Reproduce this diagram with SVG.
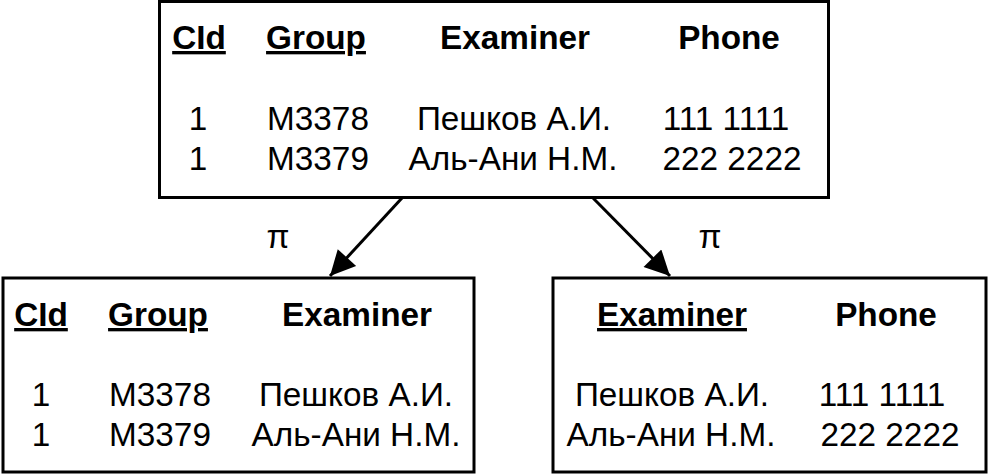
<svg xmlns="http://www.w3.org/2000/svg" width="988" height="476" viewBox="0 0 988 476">
<style>
  .box { fill: #ffffff; stroke: #000000; stroke-width: 3; }
  text { font-family: "Liberation Sans", Arial, sans-serif; font-size: 33.3px; fill: #000000; text-anchor: middle; }
  .h { font-weight: bold; }
  .u { text-decoration: underline; }
  .edge { stroke: #000000; stroke-width: 3; fill: none; }
</style>
<defs>
  <marker id="arrow" viewBox="0 0 10 10" refX="10" refY="5" markerUnits="userSpaceOnUse" markerWidth="27" markerHeight="25" orient="auto">
    <path d="M0,0 L10,5 L0,10 Z" fill="#000000"/>
  </marker>
</defs>
<rect width="988" height="476" fill="#ffffff"/>
<g id="connectors">
  <line class="edge" x1="402" y1="198" x2="330" y2="276" marker-end="url(#arrow)"/>
  <line class="edge" x1="593" y1="198" x2="670" y2="276" marker-end="url(#arrow)"/>
  <text x="278" y="248">π</text>
  <text x="710" y="248">π</text>
</g>
<g id="node-source">
  <rect class="box" x="159.5" y="1.5" width="669" height="196"/>
  <text class="h u" x="199" y="49">CId</text>
  <text class="h u" x="316" y="49">Group</text>
  <text class="h" x="515" y="49">Examiner</text>
  <text class="h" x="729" y="49">Phone</text>
  <text x="198" y="130">1</text>
  <text x="318" y="130">M3378</text>
  <text x="514" y="130">Пешков А.И.</text>
  <text x="726" y="130">111 1111</text>
  <text x="198" y="170">1</text>
  <text x="318" y="170">M3379</text>
  <text x="513" y="170">Аль-Ани Н.М.</text>
  <text x="732" y="170">222 2222</text>
</g>
<g id="node-left">
  <rect class="box" x="3" y="278" width="471" height="194"/>
  <text class="h u" x="41" y="326">CId</text>
  <text class="h u" x="158" y="326">Group</text>
  <text class="h" x="357" y="326">Examiner</text>
  <text x="41" y="406">1</text>
  <text x="160" y="406">M3378</text>
  <text x="356" y="406">Пешков А.И.</text>
  <text x="41" y="446">1</text>
  <text x="160" y="446">M3379</text>
  <text x="356" y="446">Аль-Ани Н.М.</text>
</g>
<g id="node-right">
  <rect class="box" x="553" y="278" width="433" height="194"/>
  <text class="h u" x="672" y="326">Examiner</text>
  <text class="h" x="886" y="326">Phone</text>
  <text x="672" y="406">Пешков А.И.</text>
  <text x="882" y="406">111 1111</text>
  <text x="671" y="446">Аль-Ани Н.М.</text>
  <text x="890" y="446">222 2222</text>
</g>
</svg>
